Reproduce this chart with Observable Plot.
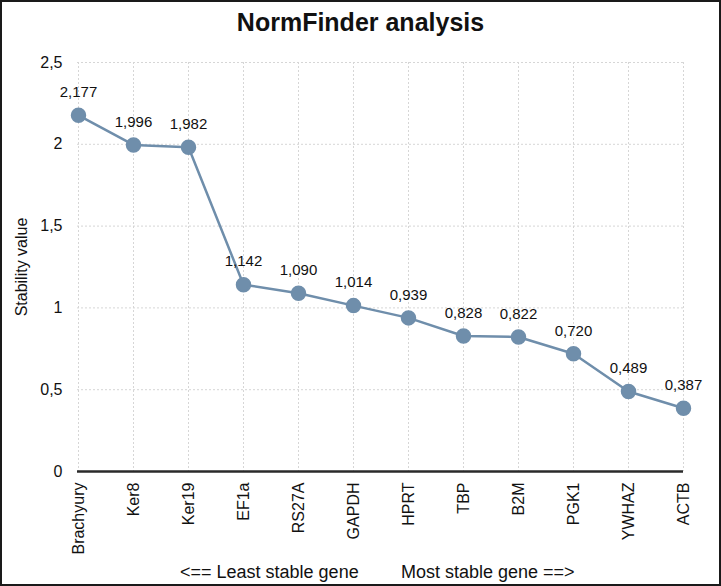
<!DOCTYPE html>
<html>
<head>
<meta charset="utf-8">
<script src="https://cdn.jsdelivr.net/npm/d3@7"></script>
<script src="https://cdn.jsdelivr.net/npm/@observablehq/plot@0.6"></script>
<style>
  html, body { margin: 0; padding: 0; background: #fff; }
  #wrap { position: relative; width: 721px; height: 586px; overflow: hidden; font-family: "Liberation Sans", Arial, Helvetica, sans-serif; background: #fff; }
  #title { position: absolute; left: 0; top: 8px; width: 721px; text-align: center; font-size: 25px; font-weight: bold; color: #111; }
  #chart { position: absolute; left: 0; top: 40px; }
  .cap { position: absolute; top: 562px; font-size: 18px; color: #111; white-space: pre; }
  #frame { position: absolute; left: 0; top: 0; width: 721px; height: 586px; box-sizing: border-box; border: 2px solid #1a1a1a; pointer-events: none; }
</style>
</head>
<body>
<div id="wrap">
  <div id="title">NormFinder analysis</div>
  <div id="chart"></div>
  <div class="cap" style="left:180px">&lt;== Least stable gene</div>
  <div class="cap" style="left:401px">Most stable gene ==&gt;</div>
  <div id="frame"></div>
</div>
<script>
const genes = ["Brachyury", "Ker8", "Ker19", "EF1a", "RS27A", "GAPDH", "HPRT", "TBP", "B2M", "PGK1", "YWHAZ", "ACTB"];
const stability = [2.177, 1.996, 1.982, 1.142, 1.090, 1.014, 0.939, 0.828, 0.822, 0.720, 0.489, 0.387];
const yTicks = [0, 0.5, 1, 1.5, 2, 2.5];

const data = genes.map((g, i) => ({gene: g, value: stability[i]}));
const comma = (v, digits) => v.toFixed(digits).replace(".", ",");
const yFmt = v => String(v).replace(".", ",");
const color = "#6f8eab";

const plot = Plot.plot({
  width: 721,
  height: 522,
  marginLeft: 77,
  marginRight: 38,
  marginTop: 22,
  marginBottom: 91,
  style: {fontFamily: "'Liberation Sans', Arial, Helvetica, sans-serif", fontSize: "14px", color: "#111", background: "transparent"},
  x: {type: "point", domain: genes, padding: 0, label: null},
  y: {domain: [0, 2.5], label: null},
  marks: [
    Plot.gridX(genes, {stroke: "#d6d6d6", strokeOpacity: 1, strokeDasharray: "2,2", strokeWidth: 1}),
    Plot.gridY(yTicks, {stroke: "#d6d6d6", strokeOpacity: 1, strokeDasharray: "2,2", strokeWidth: 1}),
    Plot.axisY(yTicks, {tickSize: 0, tickPadding: 15, tickFormat: yFmt, fontSize: 16, label: null}),
    Plot.axisY({ticks: [], label: "Stability value", labelAnchor: "center", labelArrow: "none", labelOffset: 62, fontSize: 16, tickSize: 0}),
    Plot.axisX(genes, {tickSize: 0, tickPadding: 11, tickRotate: -90, fontSize: 16, label: null}),
    Plot.ruleY([0], {stroke: "#2a2a2a", strokeWidth: 2.5}),
    Plot.line(data, {x: "gene", y: "value", stroke: color, strokeWidth: 2.5}),
    Plot.dot(data, {x: "gene", y: "value", r: 7, fill: color, stroke: color}),
    Plot.text(data, {x: "gene", y: "value", text: d => comma(d.value, 3), dy: -23, fontSize: 15, fill: "#111"})
  ]
});
document.getElementById("chart").appendChild(plot);
</script>
</body>
</html>
